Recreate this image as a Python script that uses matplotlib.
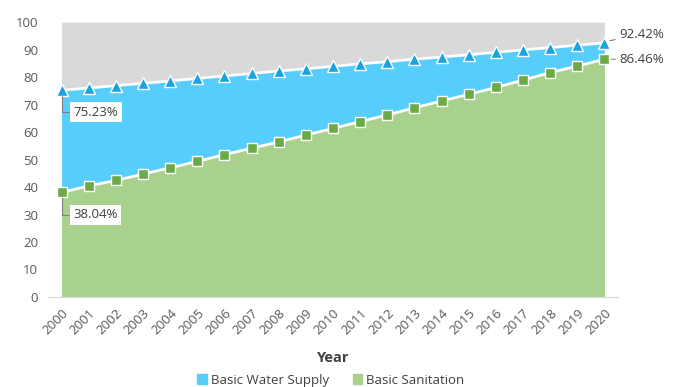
import matplotlib
matplotlib.use("Agg")
import matplotlib.pyplot as plt
from matplotlib.patches import Patch

years = list(range(2000, 2021))
water = [75.23, 76.0, 76.9, 77.7, 78.6, 79.5, 80.4, 81.3, 82.2, 83.0, 83.9,
         84.8, 85.6, 86.5, 87.3, 88.1, 89.0, 89.9, 90.7, 91.6, 92.42]
sanitation = [38.04, 40.4, 42.4, 44.7, 47.0, 49.3, 51.8, 54.1, 56.4, 58.9, 61.3,
              63.8, 66.2, 68.8, 71.3, 73.7, 76.2, 78.9, 81.6, 84.0, 86.46]
series_names = ["Basic Water Supply", "Basic Sanitation"]

plt.rcParams['font.family'] = ['Open Sans', 'DejaVu Sans']
fig = plt.figure(figsize=(6.75, 3.87), dpi=100)
ax = fig.add_axes([0.0711, 0.2326, 0.8445, 0.7104])

x = years
ax.fill_between(x, water, 100, color="#d9d9d9", lw=0)
ax.fill_between(x, sanitation, water, color="#57cdfc", lw=0)
ax.fill_between(x, 0, sanitation, color="#a9d18e", lw=0)
ax.plot(x, water, color="white", lw=2, marker="^", ms=8.5, mfc="#1aa3e3",
        mec="white", mew=1)
ax.plot(x, sanitation, color="white", lw=2, marker="s", ms=7, mfc="#6aab45",
        mec="white", mew=1)

ax.set_xlim(years[0] - 0.5, years[-1] + 0.5)
ax.set_ylim(0, 100)
ax.set_yticks(range(0, 101, 10))
ax.set_xticks(years)
ax.set_xticklabels([str(y) for y in years], rotation=45, ha="right",
                   rotation_mode="anchor")
for s in ["top", "right", "left"]:
    ax.spines[s].set_visible(False)
ax.spines["bottom"].set_color("#d9d9d9")
ax.tick_params(axis="both", length=0, colors="#595959", labelsize=9.5)
ax.tick_params(axis="x", pad=7)
ax.tick_params(axis="y", pad=7)
ax.set_xlabel("Year", fontsize=10.5, fontweight="bold", color="#404040",
              labelpad=10)

fs = 9.5
box = dict(boxstyle="square,pad=0.25", fc="white", ec="none")
arrow = dict(arrowstyle="-", color="#808080", lw=0.8, shrinkA=0, shrinkB=0,
             connectionstyle="angle,angleA=0,angleB=90,rad=0")
ax.annotate(f"{water[0]:.2f}%", xy=(x[0], water[0] - 2), xytext=(x[0] + 0.45, water[0] - 8),
            fontsize=fs, color="#404040", bbox=box, va="center", ha="left",
            arrowprops=arrow)
ax.annotate(f"{sanitation[0]:.2f}%", xy=(x[0], sanitation[0] - 2), xytext=(x[0] + 0.45, sanitation[0] - 8.2),
            fontsize=fs, color="#404040", bbox=box, va="center", ha="left",
            arrowprops=arrow)
ax.annotate(f"{water[-1]:.2f}%", xy=(x[-1] + 0.2, water[-1] + 0.8), xytext=(x[-1] + 0.55, water[-1] + 3.2),
            fontsize=fs, color="#404040", va="center", ha="left",
            arrowprops=dict(arrowstyle="-", color="#808080", lw=0.8, shrinkA=1, shrinkB=0),
            annotation_clip=False)
ax.annotate(f"{sanitation[-1]:.2f}%", xy=(x[-1] + 0.25, sanitation[-1]), xytext=(x[-1] + 0.55, sanitation[-1]),
            fontsize=fs, color="#404040", va="center", ha="left",
            arrowprops=dict(arrowstyle="-", color="#808080", lw=0.8, shrinkA=1, shrinkB=0),
            annotation_clip=False)

handles = [Patch(color="#57cdfc"), Patch(color="#a9d18e")]
fig.legend(handles, series_names, loc="lower center", bbox_to_anchor=(0.49, -0.03),
           ncol=2, frameon=False, fontsize=9.5, handlelength=0.7, handleheight=0.7,
           handletextpad=0.3, columnspacing=1.8, labelcolor="#404040")

fig.savefig("out.png", dpi=100)
